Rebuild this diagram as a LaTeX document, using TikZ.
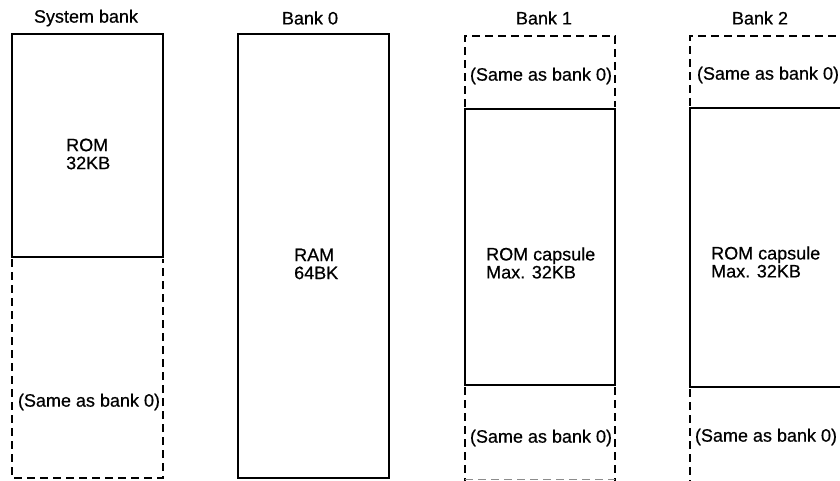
\documentclass[tikz,border=0pt]{standalone}
\usepackage{fontspec}
\setmainfont{Liberation Sans}[FakeBold=0.6]
\begin{document}
\begin{tikzpicture}[x=1pt,y=-1pt,
  solidbox/.style={draw=black, line width=2.7pt, line join=miter},
  dashbox/.style={draw=black, line width=2.4pt, dash pattern=on 8pt off 5pt},
  lbl/.style={font=\fontsize{18}{18}\selectfont, inner sep=0pt},
  blk/.style={lbl, align=left, anchor=west}]
\useasboundingbox (0,0) rectangle (840,481);
\clip (0,0) rectangle (840,481);
% titles
\node[lbl] (t0) at (86,18) {System bank};
\node[lbl] (t1) at (310,18) {Bank 0};
\node[lbl] (t2) at (544,18) {Bank 1};
\node[lbl] (t3) at (760,18) {Bank 2};
% system bank
\draw[solidbox] (12,34) rectangle (163,257);
\draw[dashbox] (12,259) -- (12,478) -- (163,478) -- (163,259);
\node[blk] (rom) at (66,154) {ROM\\32KB};
\node[lbl] (s0) at (89,402) {(Same as bank 0)};
% bank 0
\draw[solidbox] (238,34) rectangle (389,478);
\node[blk] (ram) at (294,264) {RAM\\64BK};
% bank 1
\draw[dashbox] (465,107) -- (465,36) -- (615,36) -- (615,107);
\draw[solidbox] (465,109) rectangle (615,385);
\draw[dashbox] (465,387) -- (465,481);
\draw[dashbox] (615,387) -- (615,481);
\draw[dashbox, line width=0.8pt, draw=black!45] (465,479) -- (615,479);
\node[blk] (cap1) at (486,263) {ROM capsule\\Max. 32KB};
\node[lbl] (s1a) at (541,76) {(Same as bank 0)};
\node[lbl] (s1b) at (541,438) {(Same as bank 0)};
% bank 2
\draw[dashbox] (690,106) -- (690,36) -- (850,36);
\draw[solidbox] (690,108) rectangle (850,387);
\draw[dashbox] (690,389) -- (690,481);
\node[blk] (cap2) at (711,262) {ROM capsule\\Max. 32KB};
\node[lbl] (s2a) at (768,75) {(Same as bank 0)};
\node[lbl] (s2b) at (766,437) {(Same as bank 0)};
\end{tikzpicture}
\end{document}
